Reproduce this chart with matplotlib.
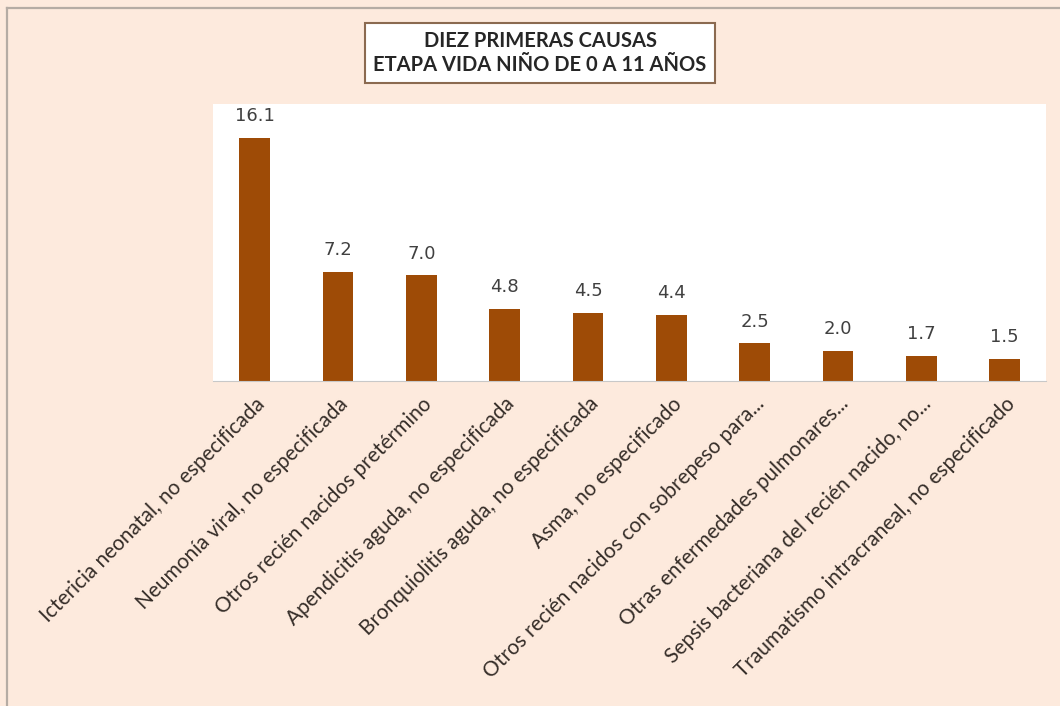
import matplotlib.pyplot as plt
from matplotlib.lines import Line2D
import numpy as np

plt.rcParams['font.family'] = ['Lato', 'DejaVu Sans']

causas = [
    "Ictericia neonatal, no especificada",
    "Neumonía viral, no especificada",
    "Otros recién nacidos pretérmino",
    "Apendicitis aguda, no especificada",
    "Bronquiolitis aguda, no especificada",
    "Asma, no especificado",
    "Otros recién nacidos con sobrepeso para...",
    "Otras enfermedades pulmonares...",
    "Sepsis bacteriana del recién nacido, no...",
    "Traumatismo intracraneal, no especificado",
]
valores = [16.1, 7.2, 7.0, 4.8, 4.5, 4.4, 2.5, 2.0, 1.7, 1.5]
titulo = "DIEZ PRIMERAS CAUSAS\nETAPA VIDA NIÑO DE 0 A 11 AÑOS"

fondo = '#fdeadd'
color_barra = '#9e4b06'

fig = plt.figure(figsize=(10.6, 7.06), dpi=100, facecolor=fondo)
ax = fig.add_axes([0.201, 0.460, 0.786, 0.392])
ax.set_facecolor('white')

x = np.arange(len(valores))
bars = ax.bar(x, valores, width=0.37, color=color_barra)
for xi, v in zip(x, valores):
    ax.text(xi, v + 0.85, f"{v:.1f}", ha='center', va='bottom',
            fontsize=13, color='#404040', family='DejaVu Sans')

ax.set_xlim(-0.5, len(valores) - 0.5)
ax.set_ylim(0, 18.3)
ax.set_yticks([])
ax.set_xticks(x)
ax.set_xticklabels(causas, rotation=45, ha='right', rotation_mode='anchor',
                   fontsize=15, color='#352d28')
ax.tick_params(axis='x', length=0, pad=9)
for s in ['top', 'right', 'left']:
    ax.spines[s].set_visible(False)
ax.spines['bottom'].set_color('#c8c8c8')

# title box
fig.text(0.5095, 0.925, titulo, ha='center', va='center', fontsize=14.5,
         fontweight='bold', color='#262626', linespacing=1.25,
         bbox=dict(boxstyle='square,pad=0.4', facecolor='white',
                   edgecolor='#8b6a50', linewidth=1.5))

# outer frame (left and top)
fig.add_artist(Line2D([7 / 1060, 7 / 1060], [0, 1 - 8 / 706],
                      transform=fig.transFigure, color='#b5aca4', linewidth=1.6))
fig.add_artist(Line2D([7 / 1060, 1], [1 - 8 / 706, 1 - 8 / 706],
                      transform=fig.transFigure, color='#b5aca4', linewidth=1.6))

fig.savefig('out.png', dpi=100, facecolor=fondo)
